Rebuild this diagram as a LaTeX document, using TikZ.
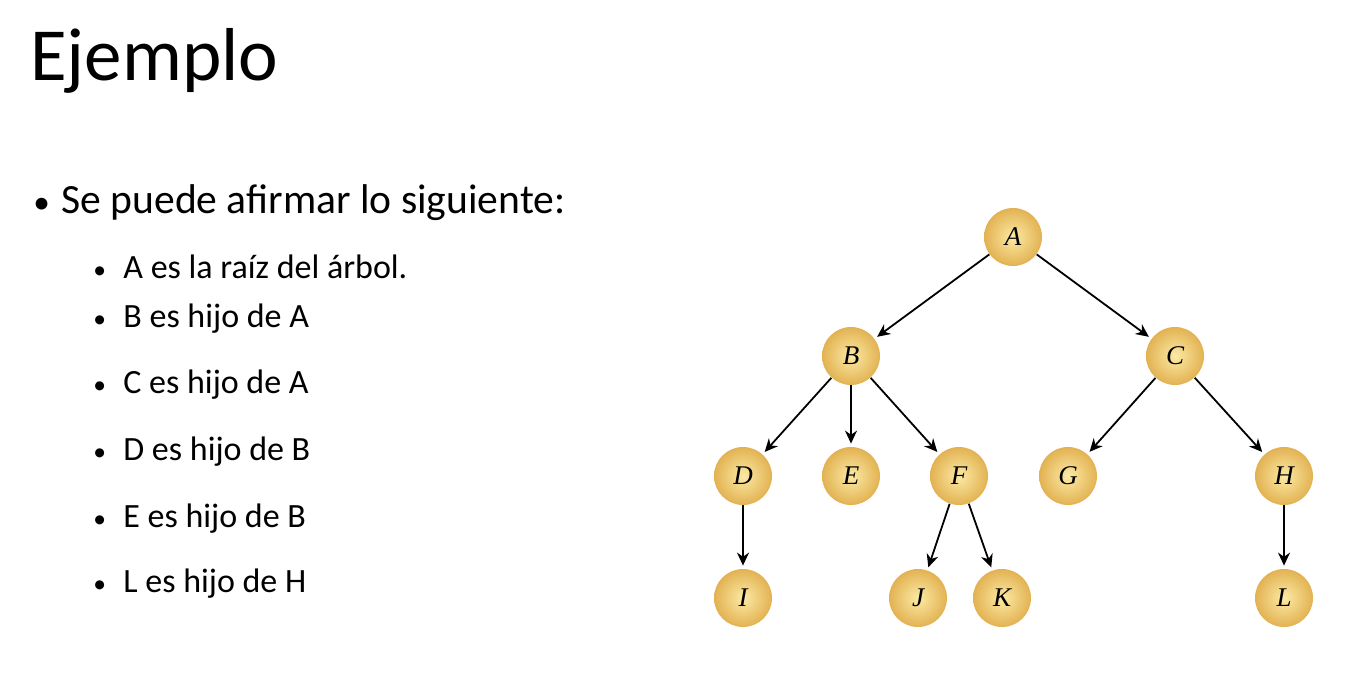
\documentclass[tikz,border=0pt]{standalone}
\usepackage{fontspec}
\usepackage{graphicx}
\setmainfont{Carlito}
\newfontfamily\treefont{Liberation Serif}
\usetikzlibrary{arrows.meta}
\definecolor{goldin}{RGB}{252,234,165}
\definecolor{goldout}{RGB}{226,178,82}

\begin{document}
\begin{tikzpicture}[x=0.5pt,y=-0.5pt,
    ball/.style={circle,minimum size=29pt,inner sep=0pt,
        inner color=goldin,outer color=goldout,
        font=\treefont\itshape\fontsize{13.5}{13.5}\selectfont},
    edge/.style={-{Stealth[length=6.5pt,width=6pt]},line width=0.9pt,shorten >=1.5pt},
    item/.style={anchor=base west,inner sep=0pt,font=\fontsize{17}{17}\selectfont}]
    \useasboundingbox[fill=white] (0,0) rectangle (1366,680);

    % slide text
    \node[anchor=base west,inner sep=0pt,font=\fontsize{37.5}{37.5}\selectfont] (title) at (30,80) {Ejemplo};
    \node[anchor=base west,inner sep=0pt,font=\fontsize{20.8}{20.8}\selectfont] (intro) at (33,213)
        {\makebox[14pt][l]{\scalebox{0.8}{\textbullet}}Se puede afirmar lo siguiente:};
    \foreach \y/\txt [count=\i] in {278/A es la raíz del árbol.,327/B es hijo de A,393/C es hijo de A,
            460/D es hijo de B,527/E es hijo de B,592/L es hijo de H}
        \node[item] (item\i) at (93,\y) {\makebox[15pt][l]{\scalebox{0.75}{\textbullet}}\txt};

    % tree
    \node[ball] (A) at (1013,237) {A};
    \node[ball] (B) at (851,356) {B};
    \node[ball] (C) at (1175,356) {C};
    \node[ball] (D) at (743,476) {D};
    \node[ball] (E) at (851,476) {E};
    \node[ball] (F) at (959,476) {F};
    \node[ball] (G) at (1068,476) {G};
    \node[ball] (H) at (1284,476) {H};
    \node[ball] (I) at (743,598) {I};
    \node[ball] (J) at (918,598) {J};
    \node[ball] (K) at (1002,598) {K};
    \node[ball] (L) at (1284,598) {L};

    \foreach \p/\c in {A/B,A/C,B/D,B/E,B/F,C/G,C/H,D/I,F/J,F/K,H/L}
        \draw[edge] (\p) -- (\c);
\end{tikzpicture}
\end{document}
